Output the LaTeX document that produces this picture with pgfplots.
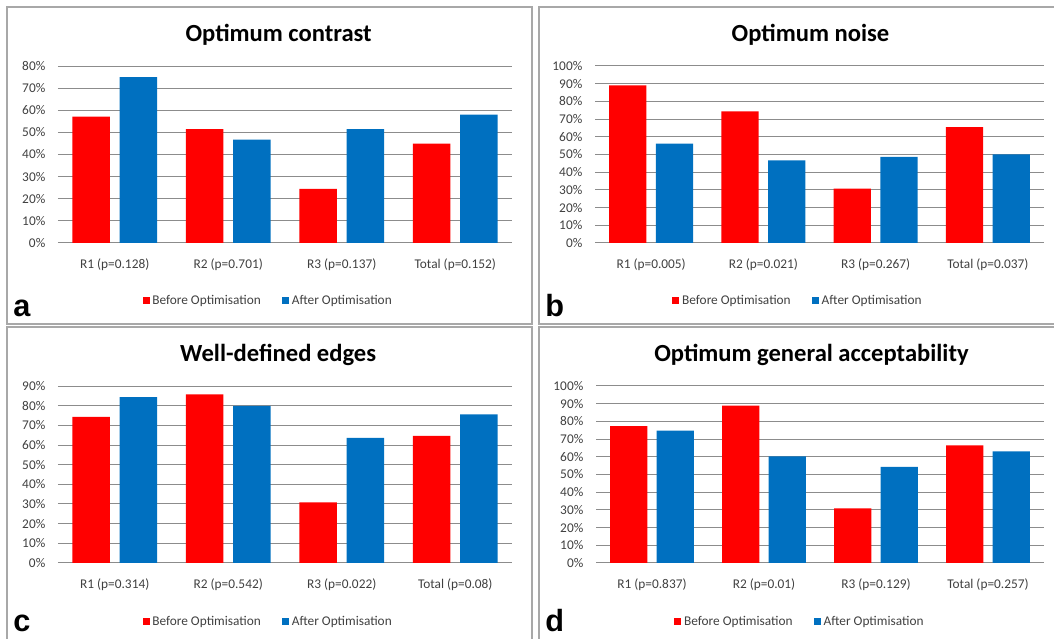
\documentclass[border=0pt]{standalone}
\usepackage{pgfplots}
\pgfplotsset{compat=1.18}
\usepackage{fontspec}
\setmainfont{Carlito}
\newfontfamily\letterfont{Liberation Sans}
\definecolor{bred}{HTML}{FF0000}
\definecolor{bblue}{HTML}{0070C0}
\definecolor{gridc}{HTML}{8C8C8C}
\definecolor{framec}{HTML}{A8A8A8}
\definecolor{labc}{HTML}{404040}

\pgfplotsset{
 panel/.style={
  ybar, scale only axis, width=340.5pt, height=132.75pt,
  anchor=south west,
  xmin=-0.5, xmax=3.5, ymin=0,
  xtick={0,1,2,3},
  axis x line=bottom, axis y line=left,
  axis line style={draw=none,-},
  major tick length=0pt,
  ymajorgrids, grid style={gridc, line width=0.75pt},
  bar width=0.332,
  tick label style={font=\fontsize{10}{12}\selectfont, text=labc},
  /pgf/number format/assume math mode=true,
  xticklabel style={yshift=-8pt},
  yticklabel style={xshift=-6pt},
  title style={anchor=base, yshift=-6pt, font=\bfseries\fontsize{18.45}{22}\selectfont},
  legend columns=2,
  legend style={draw=none, fill=none, anchor=center, font=\fontsize{10}{12}\selectfont, text=labc,
    /tikz/every even column/.append style={column sep=14pt}},
  legend image code/.code={\fill[##1] (0pt,-2.6pt) rectangle (5.25pt,2.6pt);},
 },
 before/.style={fill=bred, draw=none, bar shift=-0.208},
 after/.style={fill=bblue, draw=none, bar shift=0.208},
}

\begin{document}
\begin{tikzpicture}
\useasboundingbox (0,0) rectangle (790.5pt,479.25pt);
% frames
\draw[framec, line width=1.2pt] (5.25pt,474pt) rectangle (399pt,236.25pt);
\draw[framec, line width=1.2pt] (800pt,474pt) -- (404.25pt,474pt) -- (404.25pt,236.25pt) -- (800pt,236.25pt);
\draw[framec, line width=1.2pt] (5.25pt,-5pt) -- (5.25pt,233.8pt) -- (399pt,233.8pt) -- (399pt,-5pt);
\draw[framec, line width=1.2pt] (404.25pt,-5pt) -- (404.25pt,233.8pt) -- (800pt,233.8pt);

% panel a
\begin{axis}[panel, at={(43.5pt,297pt)}, ymax=80,
  ytick={0,10,...,80}, yticklabels={0\%,10\%,20\%,30\%,40\%,50\%,60\%,70\%,80\%},
  xticklabels={R1 (p=0.128), R2 (p=0.701), R3 (p=0.137), Total (p=0.152)},
  title={Optimum contrast}, title style={at={(0.486,1.137)}},
  legend style={at={(0.4637,-0.325)}}]
\addplot[before] coordinates {(0,57.1) (1,51.5) (2,24.5) (3,44.9)};
\addplot[after] coordinates {(0,75.0) (1,46.7) (2,51.5) (3,58.0)};
\legend{Before Optimisation, After Optimisation}
\end{axis}

% panel b
\begin{axis}[panel, at={(446.25pt,297pt)}, width=336.75pt, ymax=100,
  ytick={0,10,...,100}, yticklabels={0\%,10\%,20\%,30\%,40\%,50\%,60\%,70\%,80\%,90\%,100\%},
  xticklabels={R1 (p=0.005), R2 (p=0.021), R3 (p=0.267), Total (p=0.037)},
  title={Optimum noise}, title style={at={(0.480,1.137)}},
  legend style={at={(0.453,-0.325)}}]
\addplot[before] coordinates {(0,89.1) (1,74.4) (2,30.7) (3,65.5)};
\addplot[after] coordinates {(0,56.1) (1,46.7) (2,48.6) (3,50.1)};
\legend{Before Optimisation, After Optimisation}
\end{axis}

% panel c
\begin{axis}[panel, at={(43.5pt,57pt)}, ymax=90,
  ytick={0,10,...,90}, yticklabels={0\%,10\%,20\%,30\%,40\%,50\%,60\%,70\%,80\%,90\%},
  xticklabels={R1 (p=0.314), R2 (p=0.542), R3 (p=0.022), Total (p=0.08)},
  title={Well-defined edges}, title style={at={(0.485,1.137)}},
  legend style={at={(0.4637,-0.331)}}]
\addplot[before] coordinates {(0,74.3) (1,85.8) (2,30.8) (3,64.6)};
\addplot[after] coordinates {(0,84.3) (1,79.9) (2,63.6) (3,75.6)};
\legend{Before Optimisation, After Optimisation}
\end{axis}

% panel d
\begin{axis}[panel, at={(447pt,57pt)}, width=336pt, ymax=100,
  ytick={0,10,...,100}, yticklabels={0\%,10\%,20\%,30\%,40\%,50\%,60\%,70\%,80\%,90\%,100\%},
  xticklabels={R1 (p=0.837), R2 (p=0.01), R3 (p=0.129), Total (p=0.257)},
  title={Optimum general acceptability}, title style={at={(0.481,1.137)}},
  legend style={at={(0.456,-0.331)}}]
\addplot[before] coordinates {(0,77.3) (1,88.9) (2,30.8) (3,66.5)};
\addplot[after] coordinates {(0,74.8) (1,60.2) (2,54.3) (3,63.0)};
\legend{Before Optimisation, After Optimisation}
\end{axis}

% panel letters
\node[anchor=base west, inner sep=0pt, font=\letterfont\bfseries\fontsize{23}{26}\selectfont] at (9.75pt,241.5pt) {a};
\node[anchor=base west, inner sep=0pt, font=\letterfont\bfseries\fontsize{23}{26}\selectfont] at (408.75pt,241.5pt) {b};
\node[anchor=base west, inner sep=0pt, font=\letterfont\bfseries\fontsize{23}{26}\selectfont] at (9.75pt,5.5pt) {c};
\node[anchor=base west, inner sep=0pt, font=\letterfont\bfseries\fontsize{23}{26}\selectfont] at (408.75pt,5.5pt) {d};
\end{tikzpicture}
\end{document}
